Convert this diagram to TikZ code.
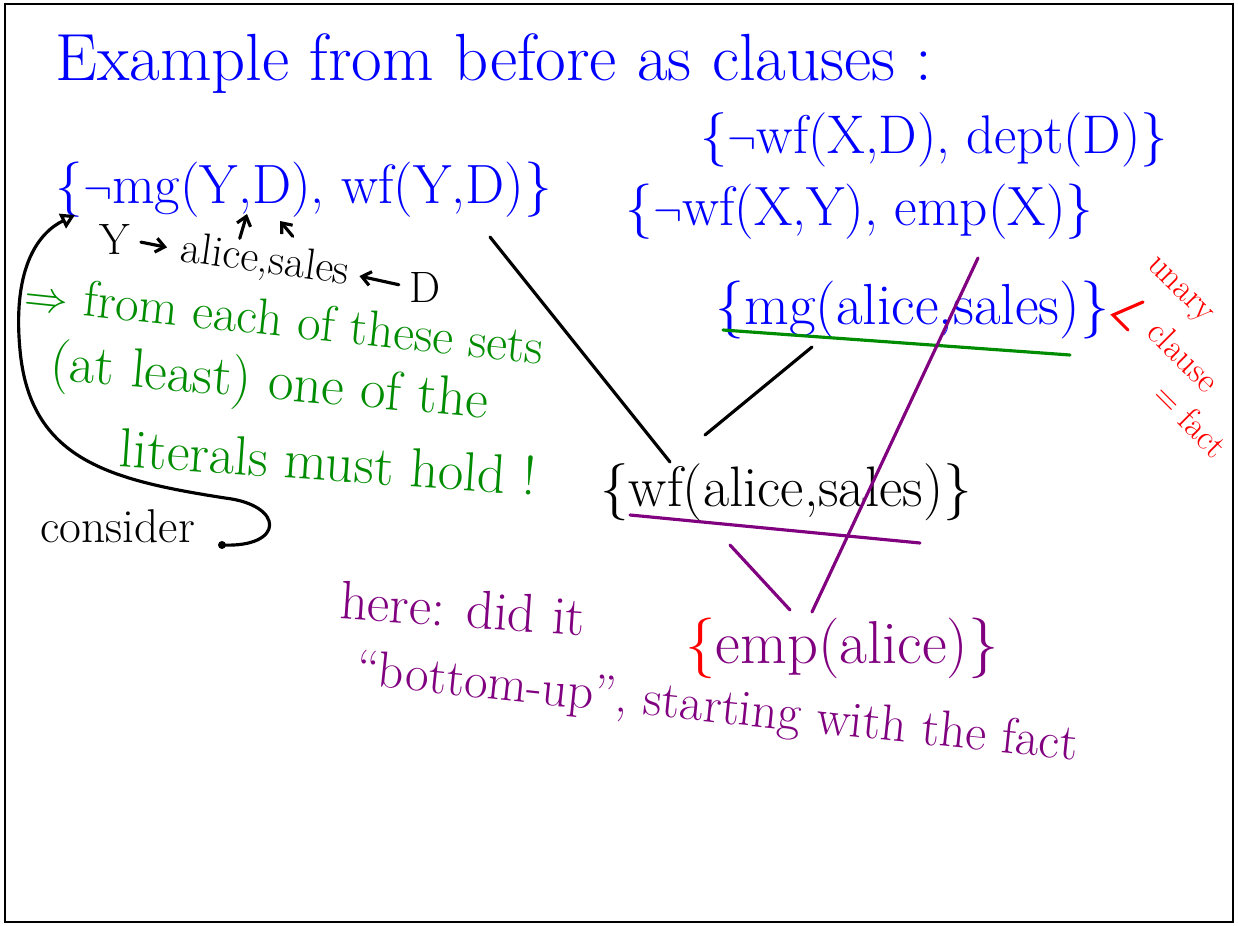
\documentclass[tikz,border=0pt]{standalone}
\usepackage{amsmath, amssymb}
\usepackage{tikz}
\usetikzlibrary{arrows.meta, calc, positioning}
\definecolor{tinte}{HTML}{0000FF}
\definecolor{gruen}{HTML}{008C00}
\definecolor{lila}{HTML}{800080}
\definecolor{rot}{HTML}{FF0000}

\begin{document}
\begin{tikzpicture}[
        x=0.02cm, y=-0.02cm,
        clause/.style={inner sep=0pt, anchor=west, font=\fontsize{#1}{34}\selectfont},
        clause/.default=31,
        note/.style={inner sep=0pt, font=\fontsize{#1}{30}\selectfont},
        note/.default=25,
        schief/.style={inner sep=0pt, rot, rotate=-45, font=\fontsize{20}{22}\selectfont},
        pen/.style={line width=1.8pt, line cap=round},
        pfeil/.style={pen, -{Straight Barb[length=5pt, width=8pt]}}
      ]
      \useasboundingbox (0,0) rectangle (1238,926);
      % Rahmen
      \draw[line width=1.5pt] (5,4) rectangle (1233,922);

      % Titel
      \node[inner sep=0pt, anchor=west, tinte, font=\fontsize{38}{40}\selectfont]
        (titel) at (55,64) {Example from before as clauses :};

      % Klauseln
      \node[clause=31.5, tinte] (kA) at (55,190)  {\{$\neg$mg(Y,D), wf(Y,D)\}};
      \node[clause=31, tinte]   (kB) at (700,140) {\{$\neg$wf(X,D), dept(D)\}};
      \node[clause=31.5, tinte] (kC) at (625,212) {\{$\neg$wf(X,Y), emp(X)\}};
      \node[clause=33, tinte]   (kD) at (715,310) {\{mg(alice,sales)\}};
      \node[clause=32.5]        (kE) at (600,492) {\{wf(alice,sales)\}};
      \node[clause=34.5, lila]  (kF) at (685,648) {{\color{rot}\{}emp(alice)\}};

      % Unterstreichungen
      \draw[pen, gruen] (723,330) -- (1070,355);
      \draw[pen, lila] (630,515) -- (920,543);

      % Resolution
      \draw[pen] ($(kA.west)+(435,47)$) -- ($(kE.west)+(70,-30)$);
      \draw[pen] ($(kD.west)+(97,37)$) -- ($(kE.west)+(105,-57)$);
      \draw[pen, lila] ($(kE.west)+(130,53)$) -- ($(kF.west)+(105,-38)$);
      \draw[pen, lila] ($(kC.west)+(353,46)$) -- ($(kF.west)+(127,-36)$);

      % Substitution
      \node[note] (nY) at (115,240) {Y};
      \node[note, rotate=-8] (nAS) at (265,262) {alice,sales};
      \node[note] (nD) at (425,287) {D};
      \draw[pfeil, shorten <=6pt, shorten >=8pt] (nY.east) -- (nAS.west);
      \draw[pfeil, shorten <=6pt, shorten >=6pt] (nD.west) -- (nAS.east);
      \coordinate (zX) at (247,214);
      \coordinate (zD) at (280,221);
      \draw[pfeil] ($(nAS.north)+(-28,-4)$) -- (zX);
      \draw[pfeil] ($(nAS.north)+(25,-6)$) -- (zD);

      % Hinweis gruen
      \node[note=29, gruen, anchor=west, rotate=-6] (g1) at (25,292) {$\Rightarrow$ from each of these sets};
      \node[note=31.5, gruen, anchor=west, rotate=-5] (g2) at (50,366) {(at least) one of the};
      \node[note=31.5, gruen, anchor=west, rotate=-4] (g3) at (120,447) {literals must hold !};

      % consider
      \node[note=27, anchor=west] (cons) at (40,526) {consider};
      \fill (222,545) circle (4) coordinate (punkt);
      \draw[pen, -{Triangle[open, length=8pt, width=9pt]}]
        (punkt) .. controls (285,548) and (285,505) .. (225,498)
        .. controls (110,480) and (30,460) .. (20,350)
        .. controls (12,265) and (40,232) .. ($(kA.west)+(20,25)$);

      % Hinweis lila
      \node[note=31, lila, anchor=west, rotate=-4] (h1) at (340,600) {here: did it};
      \node[note=29, lila, anchor=west, rotate=-6] (h2) at (356,672) {``bottom-up'', starting with the fact};

      % unary clause = fact
      \node[schief] (u1) at (1178,292) {unary};
      \node[schief] (u2) at (1184,356) {clause};
      \node[schief] (u3) at (1191,420) {= fact};
      \draw[pen, rot] (1143,302) -- (1113,315) -- (1128,330);
\end{tikzpicture}
\end{document}
